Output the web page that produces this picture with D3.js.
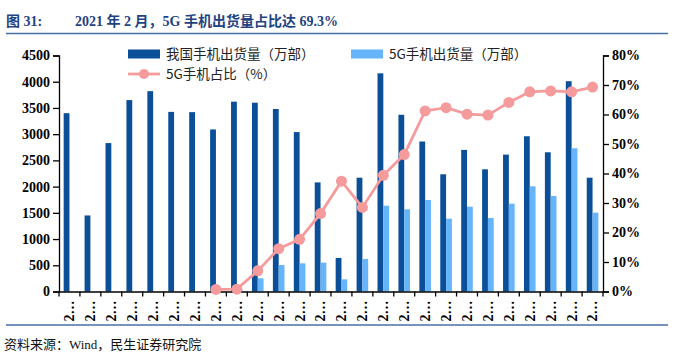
<!DOCTYPE html>
<html lang="zh">
<head>
  <meta charset="UTF-8">
  <title>5G手机出货量占比</title>
  <script src="https://d3js.org/d3.v7.min.js"></script>
  <style>
    body { margin: 0; background: #fff; }
    svg text { font-family: "Liberation Serif", "Noto Sans CJK SC", serif; }
  </style>
</head>
<body>
  <svg id="chart" width="680" height="353"></svg>

  <script>
    // Months Jan 2019 .. Feb 2021 (labels are truncated to "2…" on the chart)
    const months = [
      "2019-01","2019-02","2019-03","2019-04","2019-05","2019-06","2019-07","2019-08",
      "2019-09","2019-10","2019-11","2019-12","2020-01","2020-02","2020-03","2020-04",
      "2020-05","2020-06","2020-07","2020-08","2020-09","2020-10","2020-11","2020-12",
      "2021-01","2021-02"
    ];

    // 我国手机出货量（万部）
    const total = [3400, 1450, 2830, 3650, 3820, 3425, 3420, 3090, 3620, 3600, 3480, 3040,
                   2080, 640, 2170, 4160, 3370, 2860, 2235, 2700, 2330, 2610, 2960, 2655, 4010, 2170];

    // 5G手机出货量（万部）
    const fiveG = [null, null, null, null, null, null, null, 22, 30, 252, 505, 537,
                   550, 232, 620, 1636, 1567, 1745, 1388, 1617, 1402, 1675, 2006, 1821, 2731, 1503];

    // 5G手机占比（%）
    const share = [null, null, null, null, null, null, null, 0.7, 0.8, 7.0, 14.5, 17.7,
                   26.4, 37.4, 28.5, 39.4, 46.4, 61.2, 62.3, 60.1, 59.8, 64.1, 67.7, 68.0, 67.7, 69.3];

    const leftTicks = [0, 500, 1000, 1500, 2000, 2500, 3000, 3500, 4000, 4500];
    const rightTicks = [0, 10, 20, 30, 40, 50, 60, 70, 80];

    const seriesNames = ["我国手机出货量（万部）", "5G手机出货量（万部）", "5G手机占比（%）"];
    const colors = { total: "#0a4f97", fiveG: "#66b4fa", share: "#f59b9c" };

    const plot = { left: 59, right: 603, top: 55.5, bottom: 291.5 };

    const svg = d3.select("#chart");

    // title
    svg.append("text")
       .attr("x", 6).attr("y", 26)
       .style("font-size", "14px").style("font-weight", "bold")
       .style("fill", "#1f437f")
       .text("图 31:");
    svg.append("text")
       .attr("x", 75).attr("y", 26)
       .style("font-size", "14px").style("font-weight", "bold")
       .style("fill", "#1f437f")
       .text("2021 年 2 月，5G 手机出货量占比达 69.3%");
    svg.append("line")
       .attr("x1", 6).attr("x2", 668).attr("y1", 33.5).attr("y2", 33.5)
       .attr("stroke", "#4a6fa5").attr("stroke-width", 1.5);

    // source line
    svg.append("line")
       .attr("x1", 6).attr("x2", 668).attr("y1", 325).attr("y2", 325)
       .attr("stroke", "#4a6fa5").attr("stroke-width", 1.5);
    svg.append("text")
       .attr("x", 4).attr("y", 349)
       .style("font-size", "13px").style("fill", "#111")
       .text("资料来源：Wind，民生证券研究院");

    // scales
    const x = d3.scaleBand().domain(months).range([plot.left, plot.right]);
    const bw = x.bandwidth();
    const x1 = d3.scaleBand().domain(["total", "fiveG"]).range([bw / 2 - 5.8, bw / 2 + 5.8]);
    const yL = d3.scaleLinear().domain([0, 4500]).range([plot.bottom, plot.top]);
    const yR = d3.scaleLinear().domain([0, 80]).range([plot.bottom, plot.top]);

    // bars
    const bars = svg.append("g");
    bars.selectAll("rect.total")
        .data(months.map((m, i) => ({ m, v: total[i] })))
        .enter().append("rect")
        .attr("class", "total")
        .attr("x", d => x(d.m) + x1("total"))
        .attr("width", x1.bandwidth())
        .attr("y", d => yL(d.v))
        .attr("height", d => yL(0) - yL(d.v))
        .attr("fill", colors.total);
    bars.selectAll("rect.fiveG")
        .data(months.map((m, i) => ({ m, v: fiveG[i] })).filter(d => d.v != null))
        .enter().append("rect")
        .attr("class", "fiveG")
        .attr("x", d => x(d.m) + x1("fiveG"))
        .attr("width", x1.bandwidth())
        .attr("y", d => yL(d.v))
        .attr("height", d => yL(0) - yL(d.v))
        .attr("fill", colors.fiveG);

    // axes
    const axisStyle = g => {
      g.select(".domain").attr("stroke", "#000").attr("stroke-width", 1.3);
      g.selectAll(".tick line").attr("stroke", "#000").attr("stroke-width", 1.3);
      g.selectAll(".tick text")
       .style("font-family", "'Liberation Serif', serif")
       .style("font-size", "14px").style("font-weight", "bold").style("fill", "#000");
    };

    svg.append("g")
       .attr("transform", `translate(${plot.left},0)`)
       .call(d3.axisLeft(yL).tickValues(leftTicks).tickFormat(d3.format("d"))
               .tickSize(6).tickSizeOuter(6).tickPadding(3))
       .call(axisStyle);

    svg.append("g")
       .attr("transform", `translate(${plot.right},0)`)
       .call(d3.axisRight(yR).tickValues(rightTicks).tickFormat(d => d + "%")
               .tickSize(6).tickSizeOuter(6).tickPadding(3))
       .call(axisStyle);

    const xAxis = svg.append("g")
       .attr("transform", `translate(0,${plot.bottom})`)
       .call(d3.axisBottom(x).tickSize(0).tickSizeOuter(0).tickFormat(d => d.slice(0, 1) + "…"))
       .call(axisStyle);
    xAxis.selectAll(".tick text")
       .attr("transform", "rotate(-90)")
       .attr("text-anchor", "end")
       .attr("x", -9).attr("y", 0).attr("dy", "0.35em");
    // ticks at category boundaries
    xAxis.selectAll("line.bound")
       .data(months.map(m => x(m)).concat([plot.right]))
       .enter().append("line")
       .attr("class", "bound")
       .attr("x1", d => d).attr("x2", d => d)
       .attr("y1", 0).attr("y2", 5)
       .attr("stroke", "#000").attr("stroke-width", 1.3);

    // share line
    const pts = months.map((m, i) => ({ m, v: share[i] })).filter(d => d.v != null);
    const line = d3.line().x(d => x(d.m) + bw / 2).y(d => yR(d.v));
    svg.append("path")
       .datum(pts)
       .attr("d", line)
       .attr("fill", "none")
       .attr("stroke", colors.share)
       .attr("stroke-width", 2.8);
    svg.append("g").selectAll("circle")
       .data(pts)
       .enter().append("circle")
       .attr("cx", d => x(d.m) + bw / 2)
       .attr("cy", d => yR(d.v))
       .attr("r", 5.5)
       .attr("fill", colors.share);

    // legend
    const legend = svg.append("g").style("font-size", "13.5px");
    const lg = [
      { name: seriesNames[0], type: "bar", color: colors.total, x: 128, y: 54 },
      { name: seriesNames[1], type: "bar", color: colors.fiveG, x: 351, y: 54 },
      { name: seriesNames[2], type: "line", color: colors.share, x: 128, y: 74 }
    ];
    lg.forEach(d => {
      if (d.type === "bar") {
        legend.append("rect")
              .attr("x", d.x).attr("y", d.y - 4.5)
              .attr("width", 32).attr("height", 9)
              .attr("fill", d.color);
      } else {
        legend.append("line")
              .attr("x1", d.x).attr("x2", d.x + 32)
              .attr("y1", d.y).attr("y2", d.y)
              .attr("stroke", d.color).attr("stroke-width", 2.8);
        legend.append("circle")
              .attr("cx", d.x + 16).attr("cy", d.y).attr("r", 5)
              .attr("fill", d.color);
      }
      legend.append("text")
            .attr("x", d.x + 38).attr("y", d.y).attr("dy", "0.36em")
            .style("font-family", "'Noto Sans CJK SC', sans-serif")
            .style("fill", "#222")
            .text(d.name);
    });
  </script>
</body>
</html>
